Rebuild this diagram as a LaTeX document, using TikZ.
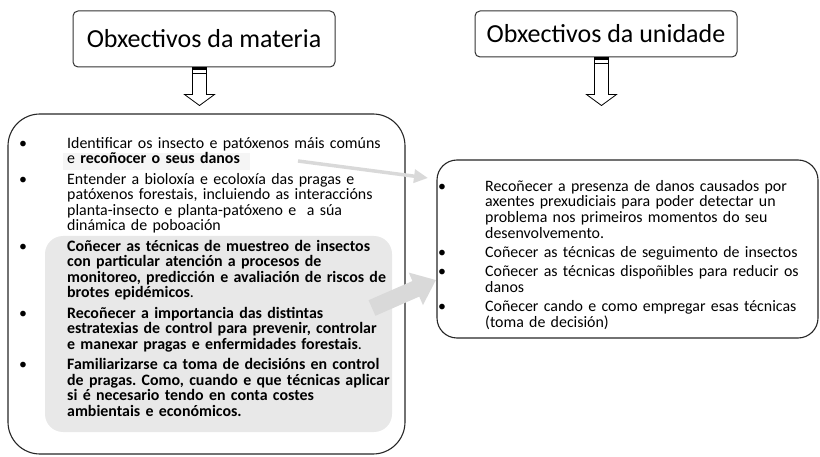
\documentclass[tikz,border=0pt]{standalone}
\usepackage{fontspec}
\setmainfont{Carlito}
\usetikzlibrary{arrows.meta}
%
% marca de punto, colgada a esquerda
\newcommand\bulletmark[1]{\leavevmode\llap{\makebox[#1][l]{\hspace*{-3pt}\textbullet}}}
%
\tikzset{
  titlebox/.style={draw=black!80, line width=1pt, rounded corners=5pt, inner sep=0pt,
                   minimum width=262pt, font=\fontsize{26}{30}\selectfont},
  bigbox/.style={draw=black!85, line width=1.1pt, inner sep=0pt},
  itemtext/.style={inner sep=0pt, anchor=north west, text width=360pt,
                   execute at begin node={\frenchspacing\parindent=0pt}},
  greyarrow/.style={draw=black!15, line width=3.5pt, -{Triangle[length=14pt,width=13pt]}},
}
\begin{document}
\begin{tikzpicture}[x=1pt,y=-1pt]%{{{
\useasboundingbox (0,0) rectangle (820,457);
%
% Sombreados
\fill [black!9, rounded corners=18pt] (45,236) rectangle (392,432);
\fill [black!4] (63,153) rectangle (250,170);
%
% Titulos
\node [titlebox, minimum height=56pt] (materiatitle) at (204,39) {Obxectivos da materia};
\node [titlebox, minimum height=46pt] (unidadetitle) at (606,34) {Obxectivos da unidade};
%
% Caixas
\node [bigbox, minimum width=397pt, minimum height=340pt, rounded corners=32pt] (materiabox) at (206.5,284) {};
\node [bigbox, minimum width=381pt, minimum height=178pt, rounded corners=20pt] (unidadebox) at (627.5,249) {};
%
% Obxectivos da materia
\node [itemtext, font=\fontsize{15.9}{15.5}\selectfont, execute at begin node={\parskip=5pt}] (materiatext) at (67,137) {%
\bulletmark{45pt}Identificar os insecto e patóxenos máis comúns\\ e \textbf{recoñocer o seus danos}\par
\bulletmark{45pt}Entender a bioloxía e ecoloxía das pragas e\\ patóxenos forestais, incluiendo as interaccións\\ planta-insecto e planta-patóxeno e \ a súa\\ dinámica de poboación\par
\bulletmark{45pt}\textbf{Coñecer as técnicas de muestreo de insectos\\ con particular atención a procesos de\\ monitoreo, predicción e avaliación de riscos de\\ brotes epidémicos}.\par
\bulletmark{45pt}\textbf{Recoñecer a importancia das distintas\\ estratexias de control para prevenir, controlar\\ e manexar pragas e enfermidades forestais}.\par
\bulletmark{45pt}\textbf{Familiarizarse ca toma de decisións en control\\ de pragas. Como, cuando e que técnicas aplicar\\ si é necesario tendo en conta costes\\ ambientais e económicos.}\par};
%
% Obxectivos da unidade
\node [itemtext, font=\fontsize{15.9}{15.6}\selectfont, execute at begin node={\parskip=3.8pt}] (unidadetext) at (485,180) {%
\bulletmark{44pt}Recoñecer a presenza de danos causados por\\ axentes prexudiciais para poder detectar un\\ problema nos primeiros momentos do seu\\ desenvolvemento.\par
\bulletmark{44pt}Coñecer as técnicas de seguimento de insectos\par
\bulletmark{44pt}Coñecer as técnicas dispoñibles para reducir os\\ danos\par
\bulletmark{44pt}Coñecer cando e como empregar esas técnicas\\ (toma de decisión)\par};
%
% Frechas grises
\coordinate (danosstart) at (298,161);
\coordinate (danostip)   at (428,178);
\coordinate (brotesstart) at (372,308);
\coordinate (brotestip)   at (436,280);
\draw [greyarrow] (danosstart) -- (danostip);
\draw [greyarrow, line width=17pt, -{Triangle[length=22pt,width=34pt]}] (brotesstart) -- (brotestip);
%
% Frechas baleiras
\foreach \t/\l in {materiatitle/27, unidadetitle/37} {
  \draw [fill=white, line width=0.8pt] (\t.south) ++(-11.5,0) -- ++(0,\l) -- ++(-8,0)
        -- ++(15,11) -- ++(15,-11) -- ++(-8,0) -- ++(0,-\l) -- cycle;
  \fill (\t.south) ++(-11.5,0) rectangle ++(14,2.5);
  \draw [line width=0.8pt] (\t.south) ++(-11.5,6) -- ++(14,0);
}
%
\end{tikzpicture}
\end{document}
